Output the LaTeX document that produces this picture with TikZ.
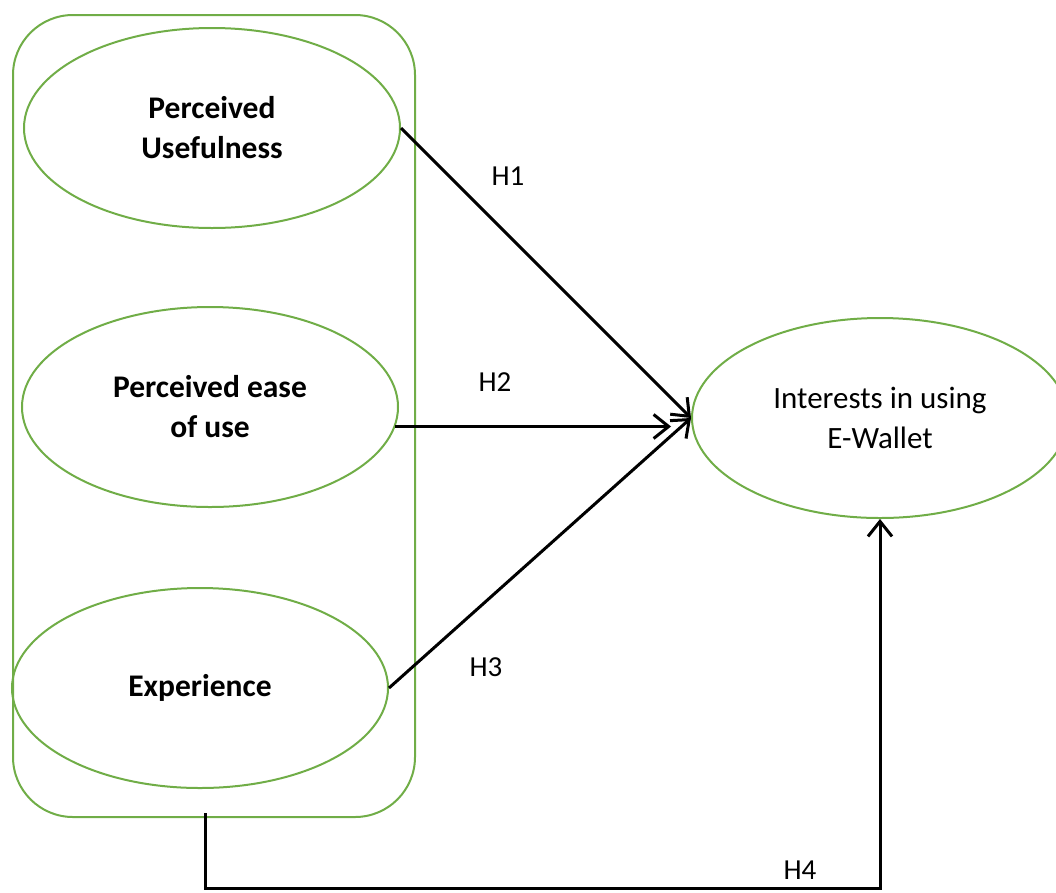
\documentclass[tikz,border=0pt]{standalone}
\usepackage{fontspec}
\setmainfont{Carlito}
\usetikzlibrary{shapes.geometric,arrows.meta}
\definecolor{ggreen}{RGB}{112,173,71}
\begin{document}
\begin{tikzpicture}[x=1pt,y=-1pt,
  oval/.style={draw=ggreen, line width=2pt, ellipse, minimum width=376pt, minimum height=200pt, inner sep=0pt, align=center, font=\fontsize{31}{40}\selectfont},
  boldoval/.style={oval, font=\fontsize{31.5}{40}\selectfont\bfseries},
  grpbox/.style={draw=ggreen, line width=2pt, rounded corners=60pt, minimum width=402pt, minimum height=802pt, inner sep=0pt},
  arr/.style={draw=black, line width=3pt, -{Straight Barb[length=15pt,width=24pt,line width=3pt]}},
  hlab/.style={font=\fontsize{29}{35}\selectfont, inner sep=0pt}
]
\useasboundingbox (0,0) rectangle (1056,892);
\clip (0,0) rectangle (1056,892);
\node[grpbox] (grp) at (214,416) {};
\node[boldoval] (pu) at (212,128) {Perceived\\Usefulness};
\node[boldoval] (pe) at (210,407) {Perceived ease\\of use};
\node[boldoval] (ex) at (200,688) {Experience};
\node[oval] (ie) at (880,418) {Interests in using\\E-Wallet};
\coordinate (h2end) at ([xshift=-20pt]ie.west);
\coordinate (h4s) at (205,813);
\coordinate (h4c) at (205,888);
\draw[arr] (pu.east) -- (ie.west);
\draw[arr] (pe.-6) -- (h2end |- pe.-6);
\draw[arr] (ex.east) -- (ie.west);
\draw[arr] (h4s) -- (h4c) -| (ie.south);
\node[hlab] (l1) at (508,176) {H1};
\node[hlab] (l2) at (495,382) {H2};
\node[hlab] (l3) at (486,667) {H3};
\node[hlab] (l4) at (800,870) {H4};
\end{tikzpicture}
\end{document}
